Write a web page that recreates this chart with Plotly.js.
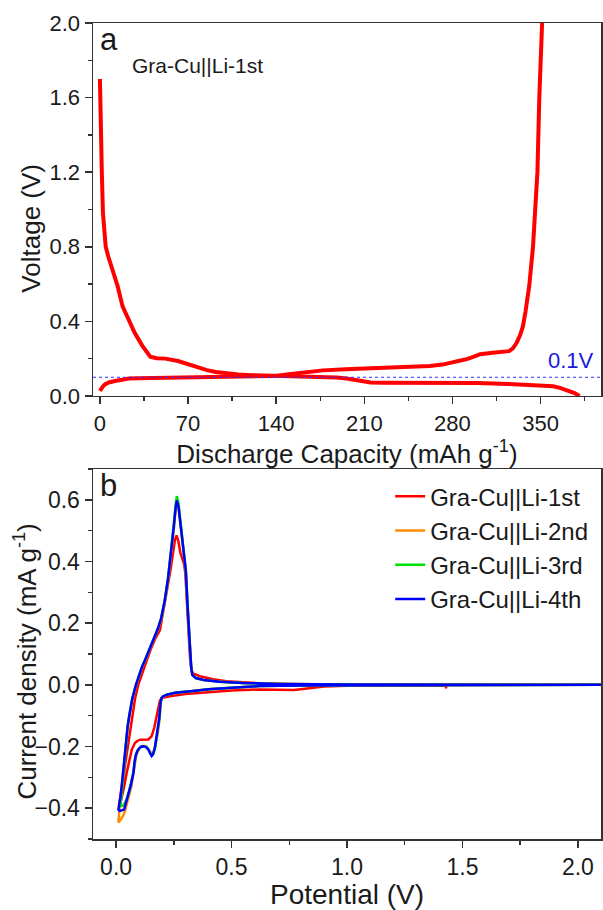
<!DOCTYPE html>
<html>
<head>
<meta charset="utf-8">
<script src="https://cdn.plot.ly/plotly-3.0.1.min.js"></script>
<style>
html,body{margin:0;padding:0;background:#fff;}
#chart{width:603px;height:910px;}
</style>
</head>
<body>
<div id="chart"></div>
<script>
// ---- Panel a: galvanostatic curve (capacity mAh/g vs voltage V)
const dischargeCap = [0, 0.3, 0.8, 1.5, 2.4, 3.5, 4.6, 6.5, 9, 14, 18, 23, 27.5, 33.6, 40, 45, 52, 62, 70, 78, 85, 92, 100, 110, 120, 130, 140, 150, 161, 175, 188, 196, 202, 208, 215, 225, 250, 280, 300, 325, 340, 352, 360, 366, 372, 377, 381];
const dischargeV   = [1.70, 1.55, 1.41, 1.20, 0.98, 0.88, 0.80, 0.75, 0.70, 0.59, 0.48, 0.40, 0.34, 0.27, 0.21, 0.202, 0.20, 0.187, 0.17, 0.152, 0.138, 0.128, 0.121, 0.115, 0.111, 0.109, 0.107, 0.106, 0.105, 0.103, 0.099, 0.093, 0.085, 0.077, 0.072, 0.071, 0.071, 0.071, 0.069, 0.064, 0.060, 0.057, 0.052, 0.042, 0.030, 0.015, 0.0];
const chargeCap = [0, 1, 2.5, 4, 7, 12, 18, 23, 30, 40, 60, 78, 100, 119, 139, 150, 161, 177, 195, 210, 243, 262, 272, 281, 290, 295, 302, 312, 320, 325, 328, 331, 334, 336, 338, 341, 344, 346, 347.5, 349, 350.5, 351.5];
const chargeV   = [0.027, 0.040, 0.052, 0.062, 0.072, 0.080, 0.087, 0.093, 0.095, 0.096, 0.098, 0.100, 0.102, 0.103, 0.107, 0.116, 0.126, 0.137, 0.143, 0.146, 0.151, 0.160, 0.168, 0.180, 0.195, 0.205, 0.224, 0.231, 0.234, 0.240, 0.255, 0.285, 0.330, 0.374, 0.450, 0.590, 0.800, 1.000, 1.200, 1.600, 1.850, 2.050];
const refVoltage = 0.1;
const refLabel = "0.1V";
const cellLabelA = "Gra-Cu||Li-1st";

// ---- Panel b: cyclic voltammetry (potential V vs current density)
const cvNames = ["Gra-Cu||Li-1st", "Gra-Cu||Li-2nd", "Gra-Cu||Li-3rd", "Gra-Cu||Li-4th"];
const cv1V = [1.43, 1.428, 1.40, 1.20, 1.00, 0.90, 0.84, 0.80, 0.77, 0.70, 0.62, 0.50, 0.406, 0.300, 0.233, 0.200, 0.190, 0.183, 0.176, 0.165, 0.154, 0.140, 0.120, 0.104, 0.092, 0.082, 0.068, 0.055, 0.046, 0.035, 0.025, 0.018, 0.012, 0.015, 0.022, 0.032, 0.042, 0.053, 0.068, 0.082, 0.096, 0.115, 0.134, 0.150, 0.168, 0.190, 0.205, 0.220, 0.235, 0.245, 0.255, 0.262, 0.270, 0.278, 0.288, 0.295, 0.300, 0.307, 0.313, 0.320, 0.327, 0.335, 0.363, 0.420, 0.478, 0.550, 0.622, 0.750, 1.000, 1.500, 2.100];
const cv1I = [-0.012, -0.003, -0.002, -0.002, -0.003, -0.005, -0.009, -0.014, -0.017, -0.017, -0.015, -0.018, -0.024, -0.030, -0.037, -0.042, -0.050, -0.072, -0.100, -0.140, -0.166, -0.177, -0.177, -0.178, -0.182, -0.188, -0.210, -0.250, -0.285, -0.330, -0.365, -0.385, -0.395, -0.380, -0.340, -0.285, -0.230, -0.177, -0.100, -0.045, 0.000, 0.045, 0.082, 0.115, 0.147, 0.178, 0.240, 0.310, 0.370, 0.420, 0.470, 0.485, 0.465, 0.430, 0.410, 0.390, 0.360, 0.270, 0.170, 0.090, 0.045, 0.036, 0.028, 0.018, 0.012, 0.008, 0.005, 0.003, 0.001, 0.0005, 0.000];

const cv2V = [2.10, 1.60, 1.20, 1.00, 0.80, 0.62, 0.48, 0.40, 0.334, 0.290, 0.255, 0.220, 0.205, 0.198, 0.193, 0.189, 0.180, 0.170, 0.162, 0.157, 0.149, 0.141, 0.131, 0.119, 0.111, 0.102, 0.094, 0.087, 0.081, 0.076, 0.066, 0.055, 0.046, 0.038, 0.030, 0.022, 0.015, 0.010, 0.012, 0.017, 0.023, 0.032, 0.042, 0.050, 0.058, 0.071, 0.087, 0.101, 0.114, 0.126, 0.146, 0.162, 0.181, 0.196, 0.211, 0.226, 0.241, 0.251, 0.258, 0.263, 0.270, 0.278, 0.287, 0.295, 0.302, 0.310, 0.318, 0.325, 0.330, 0.345, 0.380, 0.450, 0.550, 0.700, 1.000, 1.500, 2.100];
const cv2I = [0.000, -0.0005, -0.001, -0.001, -0.002, -0.004, -0.009, -0.014, -0.020, -0.023, -0.026, -0.032, -0.037, -0.042, -0.060, -0.107, -0.160, -0.200, -0.220, -0.226, -0.218, -0.207, -0.200, -0.198, -0.200, -0.206, -0.216, -0.232, -0.258, -0.292, -0.330, -0.362, -0.390, -0.410, -0.425, -0.436, -0.443, -0.445, -0.420, -0.385, -0.345, -0.270, -0.180, -0.138, -0.102, -0.046, 0.000, 0.034, 0.059, 0.079, 0.114, 0.144, 0.179, 0.214, 0.268, 0.343, 0.438, 0.512, 0.572, 0.596, 0.578, 0.528, 0.458, 0.408, 0.368, 0.250, 0.140, 0.060, 0.032, 0.022, 0.016, 0.010, 0.006, 0.003, 0.001, 0.0005, 0.000];

const cv3V = [2.10, 1.60, 1.20, 1.00, 0.80, 0.62, 0.48, 0.40, 0.334, 0.290, 0.255, 0.220, 0.204, 0.197, 0.192, 0.188, 0.179, 0.169, 0.161, 0.155, 0.148, 0.140, 0.130, 0.118, 0.110, 0.101, 0.093, 0.086, 0.080, 0.075, 0.065, 0.055, 0.046, 0.040, 0.035, 0.028, 0.022, 0.018, 0.020, 0.024, 0.028, 0.035, 0.043, 0.050, 0.057, 0.070, 0.086, 0.100, 0.113, 0.125, 0.145, 0.161, 0.180, 0.195, 0.210, 0.225, 0.240, 0.250, 0.258, 0.263, 0.270, 0.278, 0.287, 0.295, 0.302, 0.310, 0.318, 0.325, 0.330, 0.345, 0.380, 0.450, 0.550, 0.700, 1.000, 1.500, 2.100];
const cv3I = [0.000, -0.0005, -0.001, -0.001, -0.002, -0.004, -0.009, -0.014, -0.020, -0.023, -0.026, -0.032, -0.037, -0.042, -0.060, -0.107, -0.160, -0.204, -0.224, -0.229, -0.221, -0.209, -0.201, -0.199, -0.200, -0.205, -0.213, -0.226, -0.250, -0.284, -0.320, -0.348, -0.370, -0.382, -0.388, -0.392, -0.393, -0.390, -0.380, -0.355, -0.320, -0.258, -0.176, -0.135, -0.100, -0.045, 0.000, 0.035, 0.060, 0.080, 0.115, 0.145, 0.180, 0.216, 0.272, 0.348, 0.445, 0.522, 0.585, 0.612, 0.590, 0.535, 0.462, 0.412, 0.372, 0.252, 0.141, 0.060, 0.032, 0.022, 0.016, 0.010, 0.006, 0.003, 0.001, 0.0005, 0.000];

const cv4V = [2.10, 1.60, 1.20, 1.00, 0.80, 0.62, 0.48, 0.40, 0.334, 0.290, 0.255, 0.220, 0.204, 0.197, 0.192, 0.187, 0.178, 0.168, 0.160, 0.154, 0.147, 0.140, 0.130, 0.118, 0.110, 0.101, 0.093, 0.086, 0.080, 0.075, 0.065, 0.055, 0.046, 0.040, 0.035, 0.025, 0.015, 0.010, 0.012, 0.018, 0.024, 0.033, 0.042, 0.050, 0.057, 0.070, 0.086, 0.100, 0.113, 0.125, 0.145, 0.161, 0.180, 0.195, 0.210, 0.225, 0.240, 0.250, 0.258, 0.263, 0.270, 0.278, 0.287, 0.295, 0.302, 0.310, 0.318, 0.325, 0.330, 0.345, 0.380, 0.450, 0.550, 0.700, 1.000, 1.500, 2.100];
const cv4I = [0.000, -0.0005, -0.001, -0.001, -0.002, -0.004, -0.009, -0.014, -0.020, -0.023, -0.026, -0.032, -0.037, -0.042, -0.060, -0.107, -0.160, -0.204, -0.225, -0.231, -0.222, -0.210, -0.202, -0.199, -0.200, -0.205, -0.213, -0.226, -0.250, -0.285, -0.322, -0.352, -0.378, -0.395, -0.404, -0.407, -0.409, -0.405, -0.398, -0.368, -0.330, -0.262, -0.177, -0.135, -0.100, -0.045, 0.000, 0.035, 0.060, 0.080, 0.115, 0.145, 0.180, 0.215, 0.270, 0.345, 0.440, 0.515, 0.575, 0.598, 0.580, 0.530, 0.460, 0.410, 0.370, 0.250, 0.140, 0.060, 0.032, 0.022, 0.016, 0.010, 0.006, 0.003, 0.001, 0.0005, 0.000];

const cvColors = ["#ff0000", "#ff8c00", "#00e000", "#0000ff"];
const cvSets = [[cv1V, cv1I], [cv2V, cv2I], [cv3V, cv3I], [cv4V, cv4I]];

const FONT = "Liberation Sans, Arial, sans-serif";
const INK = "#1a1a1a";

const traces = [
  {x: dischargeCap, y: dischargeV, xaxis: "x", yaxis: "y", mode: "lines",
   line: {color: "#ff0000", width: 4}, showlegend: false, hoverinfo: "skip"},
  {x: chargeCap, y: chargeV, xaxis: "x", yaxis: "y", mode: "lines",
   line: {color: "#ff0000", width: 4}, showlegend: false, hoverinfo: "skip"}
];
cvSets.forEach((s, k) => {
  traces.push({x: s[0], y: s[1], xaxis: "x2", yaxis: "y2", mode: "lines",
    name: cvNames[k], line: {color: cvColors[k], width: 2.5}});
});

function ax(tickSize, titleText, titleSize, standoff, extra) {
  return Object.assign({
    showline: true, linecolor: "#333", linewidth: 1.5, mirror: true,
    ticks: "outside", ticklen: 7, tickwidth: 1.5, tickcolor: "#333",
    showgrid: false, zeroline: false,
    tickfont: {family: FONT, size: tickSize, color: INK},
    title: {text: titleText, standoff: standoff, font: {family: FONT, size: titleSize, color: INK}}
  }, extra);
}
function minor(d) { return {dtick: d, ticklen: 4, tickwidth: 1.5, tickcolor: "#333", ticks: "outside"}; }

const layout = {
  width: 603, height: 910,
  margin: {l: 93, r: 2, t: 23, b: 71},
  paper_bgcolor: "#fff", plot_bgcolor: "#fff",
  font: {family: FONT, color: INK},
  showlegend: true,
  legend: {x: 0.585, y: 0.447, xanchor: "left", yanchor: "top",
    bgcolor: "rgba(0,0,0,0)", font: {family: FONT, size: 24, color: INK},
    tracegroupgap: 0},
  xaxis: ax(22, "Discharge Capacity (mAh g<sup>-1</sup>)", 26, 0,
    {anchor: "y", range: [-5.5, 398], tick0: 0, dtick: 70, minor: minor(35)}),
  yaxis: ax(22, "", 26, 8,
    {anchor: "x", domain: [0.543, 1], range: [0, 2], tick0: 0, dtick: 0.4, tickformat: ".1f", minor: minor(0.2)}),
  xaxis2: ax(23, "Potential (V)", 28, 1,
    {anchor: "y2", range: [-0.1, 2.1], tick0: 0, dtick: 0.5, tickformat: ".1f", minor: minor(0.25)}),
  yaxis2: ax(23, "", 26, 3,
    {anchor: "x2", domain: [0, 0.4534], range: [-0.5, 0.7], tick0: 0, dtick: 0.2, tickformat: ".1f", minor: minor(0.1)}),
  shapes: [
    {type: "line", xref: "x domain", x0: 0, x1: 1, yref: "y", y0: refVoltage, y1: refVoltage,
     line: {color: "#3030ff", width: 1, dash: "dot"}}
  ],
  annotations: [
    {text: "Voltage (V)", textangle: -90, xref: "paper", yref: "paper", x: -0.122, y: 0.748,
     xanchor: "center", yanchor: "middle", showarrow: false,
     font: {family: FONT, size: 26, color: INK}},
    {text: "Current density (mA g<sup>-1</sup>)", textangle: -90, xref: "paper", yref: "paper", x: -0.133, y: 0.218,
     xanchor: "center", yanchor: "middle", showarrow: false,
     font: {family: FONT, size: 26, color: INK}},
    {text: "a", xref: "x domain", yref: "y domain", x: 0.01, y: 1.008, xanchor: "left", yanchor: "top",
     showarrow: false, font: {family: FONT, size: 31, color: INK}},
    {text: cellLabelA, xref: "x domain", yref: "y domain", x: 0.072, y: 0.885, xanchor: "left", yanchor: "middle",
     showarrow: false, font: {family: FONT, size: 21, color: INK}},
    {text: refLabel, xref: "x domain", yref: "y", x: 0.99, y: refVoltage, xanchor: "right", yanchor: "bottom",
     yshift: 2, showarrow: false, font: {family: FONT, size: 22, color: "#1a1adc"}},
    {text: "b", xref: "x2 domain", yref: "y2 domain", x: 0.01, y: 1.008, xanchor: "left", yanchor: "top",
     showarrow: false, font: {family: FONT, size: 31, color: INK}}
  ]
};

Plotly.newPlot("chart", traces, layout, {staticPlot: true, displayModeBar: false});
</script>
</body>
</html>
